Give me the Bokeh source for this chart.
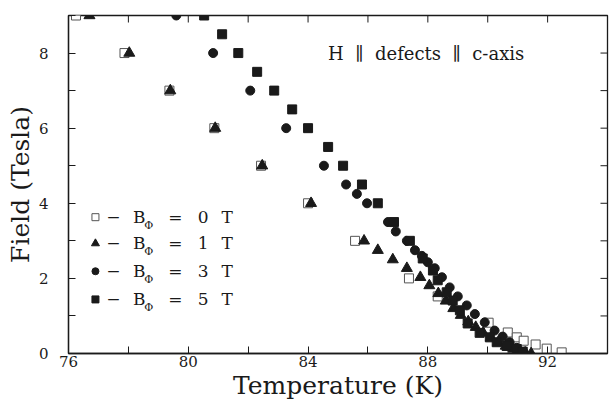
import math
from bokeh.plotting import figure
from bokeh.models import ColumnDataSource, FixedTicker, Range1d, Label
from bokeh.core.properties import value
from bokeh.embed import file_html
from bokeh.resources import INLINE

# ---------------- data ----------------
T0 = [76.25, 77.87, 79.37, 80.87, 82.43, 84.0, 85.57, 87.37, 88.33, 90.03, 90.67,
      90.97, 91.2, 91.6, 91.97, 92.47]
H0 = [9, 8, 7, 6, 5, 4, 3, 2, 1.52, 0.82, 0.56, 0.43, 0.34, 0.24, 0.13, 0.03]

T1 = [76.7, 78.03, 79.4, 80.9, 82.47, 84.1, 85.87, 86.33, 86.83, 87.3, 87.75, 88.05,
      88.35, 88.6, 88.85, 89.1, 89.35, 89.6, 89.85, 90.1, 90.35, 90.6, 90.85, 91.05,
      91.25, 91.45]
H1 = [9, 8, 7, 6, 5, 4, 3, 2.75, 2.5, 2.27, 2.03, 1.81, 1.6, 1.4, 1.2, 1.02, 0.85,
      0.7, 0.55, 0.42, 0.3, 0.2, 0.12, 0.06, 0.02, 0.0]

T3 = [79.6, 80.83, 82.07, 83.27, 84.53, 85.27, 85.63, 85.97, 86.67, 86.93, 87.3,
      87.57, 87.8, 88.0, 88.23, 88.47, 88.73, 89.0, 89.3, 89.57, 89.9, 90.23, 90.5,
      90.73, 90.97, 91.2]
H3 = [9, 8, 7, 6, 5, 4.5, 4.25, 4.0, 3.5, 3.25, 3.0, 2.75, 2.6, 2.43, 2.27, 2.03,
      1.76, 1.52, 1.28, 1.05, 0.83, 0.61, 0.45, 0.3, 0.15, 0.03]

T5 = [80.53, 81.13, 81.67, 82.3, 82.87, 83.47, 84.0, 84.67, 85.17, 85.8, 86.33,
      86.87, 87.4, 87.83, 88.17, 88.33, 88.63, 88.83, 89.07, 89.33, 89.73, 90.07,
      90.3, 90.63, 90.97, 91.17]
H5 = [9, 8.5, 8, 7.5, 7, 6.5, 6, 5.5, 5, 4.5, 4, 3.5, 3, 2.53, 2.21, 1.95, 1.63,
      1.41, 1.15, 0.8, 0.55, 0.43, 0.3, 0.2, 0.12, 0.05]

X_TICKS = [76, 80, 84, 88, 92]
X_MINOR = [78, 82, 86, 90, 94]
Y_TICKS = [0, 2, 4, 6, 8]
Y_MINOR = [1, 3, 5, 7, 9]
X_MIN, X_MAX = 76, 94
Y_MIN, Y_MAX = 0, 9

LEG_VALUES = ["0", "1", "3", "5"]
GAP = "\u00a0 "
ANNOT = "H" + GAP + "\u2225" + GAP + "defects" + GAP + "\u2225" + GAP + "c-axis"

# ---------------- styling ----------------
FONT = "DejaVu Serif"
INK = "#1a1a1a"

p = figure(frame_width=539, frame_height=338, output_backend="svg",
           toolbar_location=None, x_range=Range1d(X_MIN, X_MAX),
           y_range=Range1d(Y_MIN, Y_MAX),
           min_border_left=68, min_border_top=15, min_border_right=2,
           min_border_bottom=44, background_fill_color="white",
           border_fill_color="white")
p.grid.visible = False
p.outline_line_color = INK
p.outline_line_width = 1.3

def style_axis(ax, ticks, minor):
    ax.ticker = FixedTicker(ticks=ticks, minor_ticks=minor)
    ax.axis_line_color = INK
    ax.axis_line_width = 1.3
    ax.major_tick_line_color = INK
    ax.minor_tick_line_color = INK
    ax.major_tick_in = 7
    ax.major_tick_out = 0
    ax.minor_tick_in = 7
    ax.minor_tick_out = 0
    ax.major_label_text_font = FONT
    ax.major_label_text_color = INK
    ax.major_label_text_font_size = "15px"

style_axis(p.xaxis[0], X_TICKS, X_MINOR)
style_axis(p.yaxis[0], Y_TICKS, Y_MINOR)
p.xaxis[0].major_label_standoff = 2
p.yaxis[0].major_label_standoff = 20
p.xaxis[0].axis_label = "Temperature (K)"
p.yaxis[0].axis_label = "Field (Tesla)"
for ax in (p.xaxis[0], p.yaxis[0]):
    ax.axis_label_text_font = FONT
    ax.axis_label_text_font_style = "normal"
    ax.axis_label_text_font_size = "25px"
    ax.axis_label_text_color = INK
    ax.axis_label_standoff = 1

# inward ticks on the top and right edges (clipped to the frame)
all_x = X_TICKS + X_MINOR
all_y = Y_TICKS + Y_MINOR
p.scatter(all_x, [Y_MAX] * len(all_x), marker="dash", angle=math.pi / 2, size=14,
          line_color=INK, line_width=1)
p.scatter([X_MAX] * len(all_y), all_y, marker="dash", size=14,
          line_color=INK, line_width=1)

# ---------------- data markers ----------------
p.scatter(T0, H0, marker="square", size=9, fill_color="white", line_color="#555555",
          line_width=1)
p.scatter(T1, H1, marker="triangle", size=11, fill_color=INK, line_color=INK)
p.scatter(T3, H3, marker="circle", size=9, fill_color=INK, line_color=INK)
p.scatter(T5, H5, marker="square", size=9, fill_color=INK, line_color=INK)

# ---------------- legend (drawn by hand) ----------------
LEG_Y = [3.63, 2.93, 2.19, 1.44]
LEG_MX = 76.9
p.scatter([LEG_MX], [LEG_Y[0]], marker="square", size=7, fill_color="white",
          line_color="#555555")
p.scatter([LEG_MX], [LEG_Y[1]], marker="triangle", size=8, fill_color=INK, line_color=INK)
p.scatter([LEG_MX], [LEG_Y[2]], marker="circle", size=7, fill_color=INK, line_color=INK)
p.scatter([LEG_MX], [LEG_Y[3]], marker="square", size=7, fill_color=INK, line_color=INK)

n = len(LEG_VALUES)
src = ColumnDataSource(dict(y=LEG_Y, v=LEG_VALUES,
                            dash=["\u2212"] * n, b=["B"] * n, phi=["\u03a6"] * n,
                            eq=["="] * n, t=["T"] * n))
common = dict(text_font=value(FONT), text_color=INK, text_baseline="middle", source=src)
p.text(x=77.5, y="y", text="dash", text_font_size="17px", text_align="center", **common)
p.text(x=78.15, y="y", text="b", text_font_size="17px", text_align="left", **common)
p.text(x=78.68, y="y", text="phi", text_font_size="11px", text_align="center",
       y_offset=8, **common)
p.text(x=79.57, y="y", text="eq", text_font_size="17px", text_align="center", **common)
p.text(x=80.5, y="y", text="v", text_font_size="17px", text_align="center", **common)
p.text(x=81.3, y="y", text="t", text_font_size="17px", text_align="center", **common)

p.add_layout(Label(x=84.67, y=8.0, text=ANNOT, text_font=FONT, text_font_size="18px",
                   text_color=INK, text_baseline="middle", text_align="left"))

open("out.html", "w").write(file_html(p, INLINE))
